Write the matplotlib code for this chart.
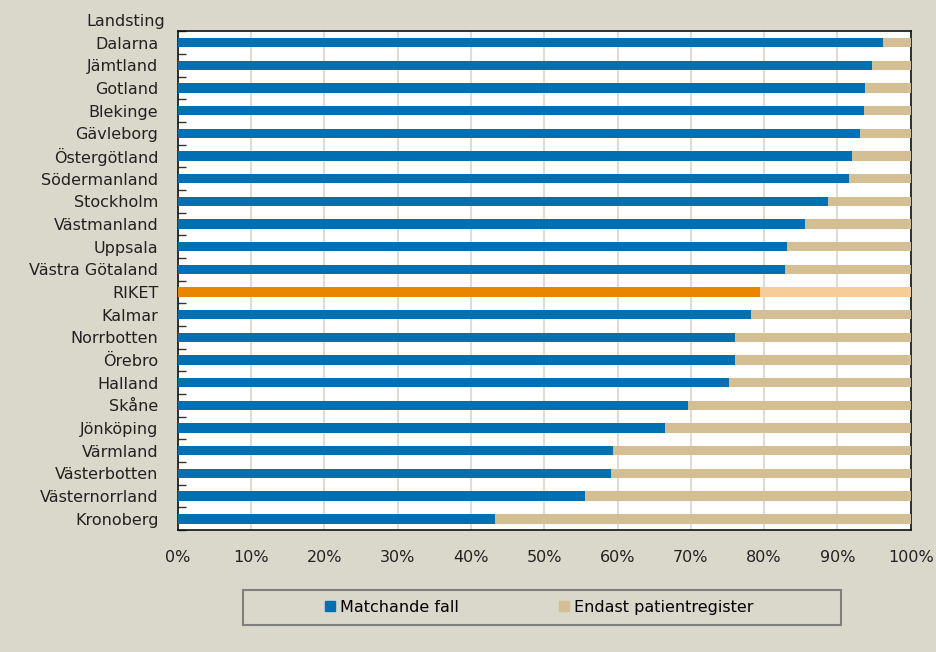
import numpy as np
import matplotlib.pyplot as plt
from matplotlib.patches import Patch, Rectangle

regions = ['Dalarna', 'Jämtland', 'Gotland', 'Blekinge', 'Gävleborg', 'Östergötland',
           'Södermanland', 'Stockholm', 'Västmanland', 'Uppsala', 'Västra Götaland',
           'RIKET', 'Kalmar', 'Norrbotten', 'Örebro', 'Halland', 'Skåne', 'Jönköping',
           'Värmland', 'Västerbotten', 'Västernorrland', 'Kronoberg']
matched = [96.2, 94.7, 93.7, 93.6, 93.1, 92.0, 91.6, 88.7, 85.6, 83.1, 82.9,
           79.4, 78.2, 76.0, 76.0, 75.2, 69.6, 66.5, 59.4, 59.1, 55.5, 43.3]
only_reg = [100 - v for v in matched]
xticks = [0, 10, 20, 30, 40, 50, 60, 70, 80, 90, 100]

bg = '#DAD7CB'
blue, tan = '#0070B3', '#D4BE94'
orange, light_orange = '#EA8500', '#F6CC98'

plt.rcParams['font.family'] = ['DejaVu Sans']

fig = plt.figure(figsize=(9.36, 6.52), dpi=100, facecolor=bg)
ax = fig.add_axes([0.190, 0.187, 0.783, 0.765])
ax.set_facecolor('white')

y = np.arange(len(regions))
c1 = [orange if r == 'RIKET' else blue for r in regions]
c2 = [light_orange if r == 'RIKET' else tan for r in regions]
ax.barh(y, matched, height=0.42, color=c1, zorder=3)
ax.barh(y, only_reg, left=matched, height=0.42, color=c2, zorder=3)

ax.set_xlim(0, 100)
ax.set_ylim(len(regions) - 0.5, -0.5)
ax.set_xticks(xticks)
ax.set_xticklabels([f'{t}%' for t in xticks], fontsize=11.5, color='#222222')
ax.tick_params(axis='x', length=0, pad=14)
ax.set_yticks(y)
ax.set_yticklabels(regions, fontsize=11.5, color='#222222')
ax.tick_params(axis='y', length=0, pad=14)
ax.set_yticks(np.arange(len(regions) + 1) - 0.5, minor=True)
ax.tick_params(axis='y', which='minor', direction='in', length=6, width=1, color='#333333')
ax.grid(axis='x', color='#E0DCD3', linewidth=1.5, zorder=0)
for s in ax.spines.values():
    s.set_color('#111111')
    s.set_linewidth(1.2)

fig.text(0.176, 0.967, 'Landsting', ha='right', va='center', fontsize=11.5, color='#222222')

# legend frame drawn separately, entries centred inside it
fig.patches.append(Rectangle((0.26, 0.041), 0.638, 0.054, transform=fig.transFigure,
                             facecolor=bg, edgecolor='#7F7F7F', linewidth=1.5))
handles = [Patch(color=blue, label='Matchande fall'),
           Patch(color=tan, label='Endast patientregister')]
fig.legend(handles=handles, loc='center', ncol=2, bbox_to_anchor=(0.576, 0.069),
           frameon=False, fontsize=11.5, handlelength=0.6, handleheight=0.6,
           handletextpad=0.3, columnspacing=6.3)

fig.savefig('out.png', dpi=100, facecolor=bg)
